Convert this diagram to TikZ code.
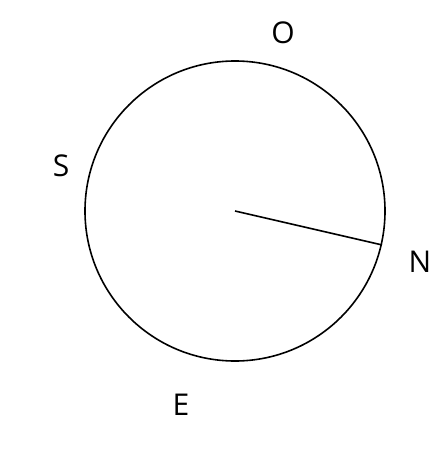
\documentclass[tikz,border=0pt]{standalone}
\usepackage{fontspec}
\setmainfont{Open Sans}
\begin{document}
\begin{tikzpicture}[x=0.75pt,y=-0.75pt,
  lbl/.style={font=\fontsize{22.5}{26}\selectfont, inner sep=0pt, anchor=center},
  ring/.style={draw=black, line width=1.2pt}]
\useasboundingbox (0,0) rectangle (447,450);
\node[circle, ring, minimum size=225pt, inner sep=0pt] (c) at (235,211) {};
\coordinate (ctr) at (235,211);
\draw[line width=1.2pt] (ctr) -- (c.-13.3);
\node[lbl] (o) at (283,33) {O};
\node[lbl] (s) at (61,166) {S};
\node[lbl] (n) at (420,262) {N};
\node[lbl] (e) at (181,405) {E};
\end{tikzpicture}
\end{document}
